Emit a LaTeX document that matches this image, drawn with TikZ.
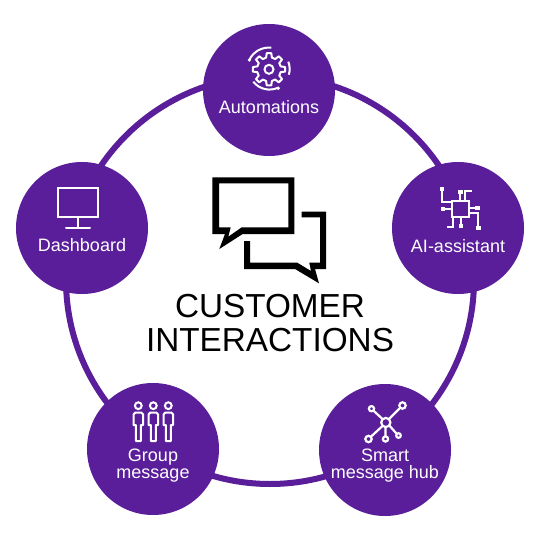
\documentclass[tikz,border=0pt]{standalone}
\usepackage{fontspec}
\setmainfont{Liberation Sans}
\definecolor{vio}{HTML}{5A1E9B}
\tikzset{
  x=1pt,y=-1pt,
  hub/.style={circle,fill=vio,draw=none,minimum size=132pt,inner sep=0pt},
  lab/.style={text=white,font=\fontsize{18}{17.5}\selectfont,align=center,inner sep=0pt},
  ico/.style={draw=white,line width=2pt,line join=miter},
  net/.style={draw=white,line width=2.2pt},
  ttl/.style={text=black,font=\fontsize{33.3}{34}\selectfont,align=center,inner sep=0pt}
}
\begin{document}
\begin{tikzpicture}
\useasboundingbox (0,0) rectangle (540,540);
\fill[white] (0,0) rectangle (540,540);
\draw[vio,line width=6pt] (270,280) circle[radius=204];
\node[hub] (top) at (269,90) {};
\node[hub] (ai) at (458,228) {};
\node[hub] (hub) at (385,450) {};
\node[hub] (grp) at (153,449) {};
\node[hub] (dash) at (82,228) {};
\node[lab] (l1) at (269,107) {Automations};
\node[lab] (l2) at (458,246) {AI-assistant};
\node[lab] (l3) at (385,465.5) {Smart\\message hub};
\node[lab] (l4) at (153,465.5) {Group\\message};
\node[lab] (l5) at (82,245) {Dashboard};
\node[ttl] (title) at (270,323.5) {CUSTOMER\\INTERACTIONS};
% bubbles
\fill[black,even odd rule] (212.3,177.3) -- (294.3,177.3) -- (294.3,234) -- (242.7,234) -- (219.3,249) -- (225,234) -- (212.3,234) -- cycle
 (219,183.3) -- (288.3,183.3) -- (288.3,227.3) -- (241.7,227.3) -- (228.3,236.7) -- (230.7,227.3) -- (219,227.3) -- cycle;
\fill[black] (301.7,211.7) -- (326,211.7) -- (326,269) -- (315,269) -- (319,283.3) -- (295,269) -- (244,269) -- (244,241) -- (250,241) -- (250,262.7) -- (297.3,262.7) -- (311,271) -- (309.3,262.7) -- (320,262.7) -- (320,217.3) -- (301.7,217.3) -- cycle;
% gear
\begin{scope}[shift={(269,69.3)}]
\draw[ico] (0,0) circle[radius=4.5];
\draw[ico,line join=round] (-14:12)
 \foreach \a in {0,45,...,315}{ -- ({\a-14}:12) -- ({\a-8}:16.3) -- ({\a+8}:16.3) -- ({\a+14}:12) } -- cycle;
\draw[ico] (-19.7,-9.3) arc[start angle=205,end angle=277,radius=21.5];
\draw[ico] (-15.7,12.4) arc[start angle=142,end angle=64,radius=20.5];
\draw[ico] (19.3,-7.6) arc[start angle=-21,end angle=16,radius=20.5];
\fill[white] (-19.7,-9.3) circle[radius=1.8] (9.3,19) circle[radius=1.8];
\end{scope}
% chip
\draw[ico] (452,201) rectangle (469.3,217.3);
\draw[ico] (441.7,190) -- (441.7,201.7) -- (452,201.7);
\draw[ico] (460,192) -- (460,201);
\draw[ico] (465,201) -- (465,190.7) -- (472.3,190.7);
\draw[ico] (469,208.3) -- (477,208.3);
\draw[ico] (444,209) -- (452,209);
\draw[ico] (469,213.3) -- (478.3,213.3) -- (478.3,227);
\draw[ico] (447.3,226.7) -- (453.3,226.7) -- (453.3,217);
\draw[ico] (460.7,217) -- (460.7,226);
\fill[white] (439.7,187) rectangle (443.7,191);
\fill[white] (457.5,189.7) rectangle (462.5,193.5);
\fill[white] (441,207) rectangle (445,211);
\fill[white] (475,206.3) rectangle (479.5,210.3);
\fill[white] (458.7,224) rectangle (462.7,228);
\fill[white] (476,226) rectangle (480.5,230.3);
% network
\draw[net] (385.8,422.5) circle[radius=4.6];
\draw[net] (371.5,408.7) circle[radius=2.6];
\draw[net] (402.5,405.5) circle[radius=3.2];
\draw[net] (368.5,439) circle[radius=3.2];
\draw[net] (385.5,439) circle[radius=2.6];
\draw[net] (398.5,435.5) circle[radius=2.3];
\draw[net] (382.5,419) -- (373.5,410.7);
\draw[net] (389,419) -- (400.2,407.8);
\draw[net] (382.5,426) -- (370.8,436.8);
\draw[net] (385.6,427.1) -- (385.5,436.4);
\draw[net] (389.3,425.5) -- (396.7,433.8);
% people
\foreach \cx in {138.3,153.3,168.3}{
\begin{scope}[shift={(\cx,0)}]
\draw[ico] (0,405.7) circle[radius=3.4];
\draw[ico,line join=round] (-3,412.5) -- (3,412.5) -- (4.8,414.5) -- (4.8,425) -- (2.5,425) -- (2.5,441) -- (-2.5,441) -- (-2.5,425) -- (-4.8,425) -- (-4.8,414.5) -- cycle;
\end{scope}}
% monitor
\draw[ico] (57.5,188) rectangle (98.3,216.5);
\draw[ico] (77.7,216.5) -- (77.7,228.3);
\draw[ico,line cap=round] (66,228.3) -- (90,228.3);
\end{tikzpicture}
\end{document}
